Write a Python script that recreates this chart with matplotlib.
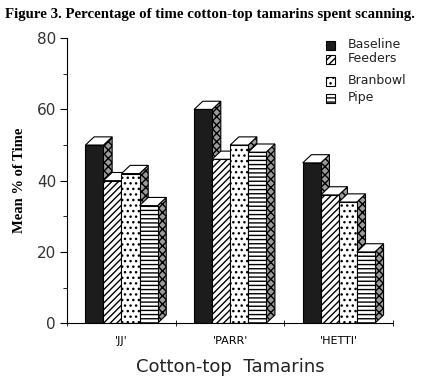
import matplotlib.pyplot as plt
from matplotlib.patches import Polygon, Rectangle

plt.rcParams['hatch.linewidth'] = 1.0

tamarins = ["'JJ'", "'PARR'", "'HETTI'"]
conditions = ['Baseline', 'Feeders', 'Branbowl', 'Pipe']
baseline = [50, 60, 45]
feeders = [40, 46, 36]
branbowl = [42, 50, 34]
pipe = [33, 48, 20]
series = [baseline, feeders, branbowl, pipe]

faces = [('#1c1c1c', ''), ('white', '/////'), ('white', '...'), ('white', '----')]

fig = plt.figure(figsize=(4.25, 3.82), dpi=100)
ax = fig.add_axes([0.158, 0.154, 0.767, 0.746])

width = 0.166
dx = 0.08
dy = 2.3
for g in range(len(tamarins)):
    start = g + 0.5 - 2 * width
    for k, vals in enumerate(series):
        v = vals[g]
        x0 = start + k * width
        x1 = x0 + width
        side = Polygon([(x1, 0), (x1 + dx, dy), (x1 + dx, v + dy), (x1, v)],
                       closed=True, facecolor='#9a9a9a', edgecolor='black',
                       lw=0.8, hatch='xxxx')
        top = Polygon([(x0, v), (x0 + dx, v + dy), (x1 + dx, v + dy), (x1, v)],
                      closed=True, facecolor='white', edgecolor='black', lw=0.8)
        ax.add_patch(side)
        ax.add_patch(top)
        fc, h = faces[k]
        ax.bar(x0, v, width, align='edge', color=fc, edgecolor='black',
               hatch=h, lw=0.8)

ax.set_xlim(0, 3)
ax.set_ylim(0, 80)
ax.set_yticks([0, 20, 40, 60, 80])
ax.set_yticks([10, 30, 50, 70], minor=True)
ax.set_xticks([0.5, 1.5, 2.5])
ax.set_xticklabels(tamarins, fontsize=8)
ax.set_xticks([0, 1, 2, 3], minor=True)
ax.tick_params(axis='x', which='major', length=0, pad=9)
ax.tick_params(axis='x', which='minor', length=4, direction='inout')
ax.tick_params(axis='y', which='major', length=5, labelsize=11, pad=3)
ax.tick_params(axis='y', which='minor', length=3)
for t in ax.get_yticklabels():
    t.set_color('#333333')
ax.spines['top'].set_visible(False)
ax.spines['right'].set_visible(False)

ax.set_ylabel('Mean % of Time', family='Liberation Serif', fontweight='bold',
              fontsize=10.5, labelpad=8)
ax.set_xlabel('Cotton-top  Tamarins', fontsize=13, labelpad=9, color='#222222')

fig.text(0.012, 0.952, 'Figure 3. Percentage of time cotton-top tamarins spent scanning.',
         family='Liberation Serif', fontweight='bold', fontsize=10.7)

# legend
leg_y = [45, 59, 81, 98]
for k, name in enumerate(conditions):
    yy = 1 - leg_y[k] / 382
    fc, h = faces[k]
    fig.patches.append(Rectangle((326 / 425, yy - 4.5 / 382), 9 / 425, 9 / 382,
                                 transform=fig.transFigure, facecolor=fc,
                                 edgecolor='black', hatch=h, lw=0.8))
    fig.text(348 / 425, yy, name, fontsize=9, va='center', color='#222222')

fig.savefig('out.png', dpi=100)
